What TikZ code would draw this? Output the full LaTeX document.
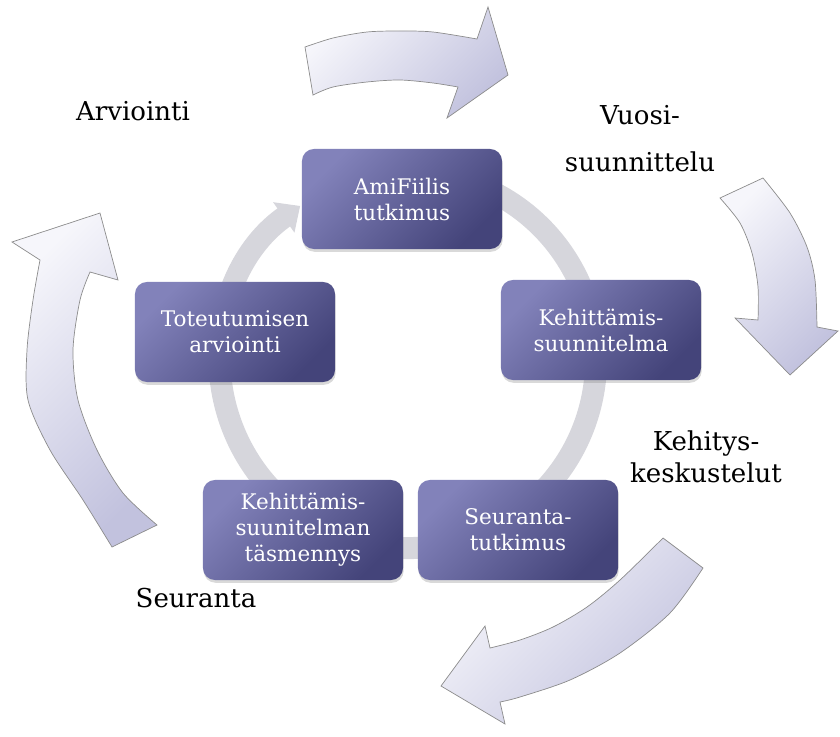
\documentclass[tikz,border=0pt]{standalone}
\usepackage{fontspec}
\setmainfont{DejaVu Serif}
\usetikzlibrary{arrows.meta,shadows}
\definecolor{boxlight}{RGB}{130,130,186}
\definecolor{boxdark}{RGB}{68,68,122}
\definecolor{arrowlight}{RGB}{246,246,251}
\definecolor{arrowdark}{RGB}{194,194,222}
\definecolor{ringgray}{RGB}{214,214,220}
\tikzset{
  stepbox/.style={rounded corners=0.3cm, minimum width=5cm, minimum height=2.5cm, align=center, text=white,
    top color=boxlight, bottom color=boxdark, shading angle=45, font=\fontsize{15.3}{18.5}\selectfont,
    drop shadow={shadow xshift=0.5pt, shadow yshift=-2pt, opacity=0.3}},
  phase/.style={align=center, font=\fontsize{18.5}{22.8}\selectfont},
  cyclearrow/.style={draw=black!45, line width=0.5pt, top color=arrowlight, bottom color=arrowdark, shading angle=45},
  ring/.style={draw=ringgray, line width=0.55cm}
}
\begin{document}
\begin{tikzpicture}[x=0.025cm, y=-0.025cm]
\useasboundingbox (0,0) rectangle (840,736);
\coordinate (ringc) at (408,360);
\draw[ring, -{Triangle[width=0.9cm,length=0.5cm]}] (ringc) ++(118:4.7cm) arc[start angle=118, end angle=-235, radius=4.7cm];

\draw[cyclearrow] plot[smooth] coordinates {(305,47) (333,38) (367,32) (400,31) (433,32) (477,39)} -- (488,7) -- (508,75) -- (447,118)
  -- plot[smooth] coordinates {(458,87) (433,83) (400,80) (367,82) (333,87) (313,95)} -- cycle;
\draw[cyclearrow] (720,198) -- plot[smooth] coordinates {(763,178) (790,213) (807,247) (815,280) (817,327)} -- (838,331) -- (790,375) -- (735,318)
  -- plot[smooth] coordinates {(758,320) (758,287) (752,253) (740,223) (720,198)} -- cycle;
\draw[cyclearrow] (663,538) -- plot[smooth] coordinates {(703,568) (670,613) (620,653) (570,680) (520,697) (500,702)} -- (505,724) -- (441,686) -- (485,626)
  -- plot[smooth] coordinates {(490,648) (520,640) (553,627) (587,607) (620,580) (663,538)} -- cycle;
\draw[cyclearrow] (112,547) -- plot[smooth] coordinates {(157,525) (123,493) (97,450) (78,400) (73,350) (80,300) (90,272)} -- (118,280) -- (100,213) -- (12,242)
  -- plot[smooth] coordinates {(40,260) (33,300) (27,350) (28,400) (50,450) (83,500) (112,547)} -- cycle;

\node[stepbox] (amifiilis) at (402,199) {AmiFiilis\\tutkimus};
\node[stepbox] (suunnitelma) at (601,330) {Kehittämis-\\suunnitelma};
\node[stepbox] (seuranta) at (518,530) {Seuranta-\\tutkimus};
\node[stepbox] (tasmennys) at (303,530) {Kehittämis-\\suunitelman\\täsmennys};
\node[stepbox] (toteutuminen) at (235,332) {Toteutumisen\\arviointi};

\node[phase] (arviointi) at (133,111) {Arviointi};
\node[phase] (vuosi) at (640,139) {Vuosi-\\[10.6pt]suunnittelu};
\node[phase] (kehitys) at (706,457) {Kehitys-\\keskustelut};
\node[phase] (seurantalbl) at (196,598) {Seuranta};
\end{tikzpicture}
\end{document}
